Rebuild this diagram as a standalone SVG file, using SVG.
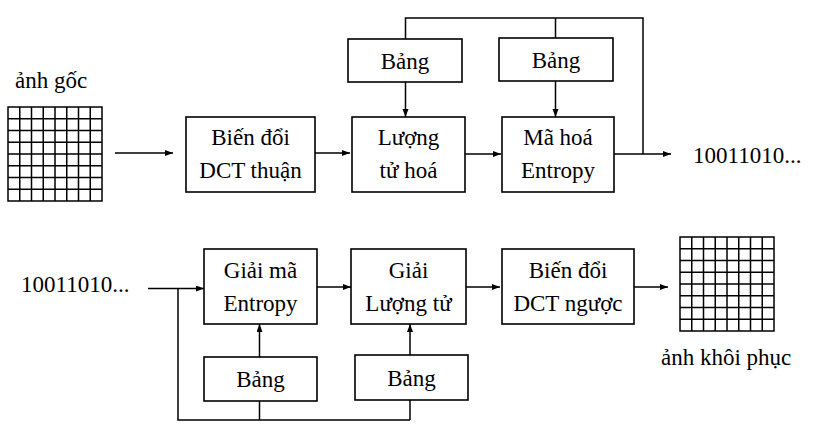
<svg xmlns="http://www.w3.org/2000/svg" width="816" height="441" viewBox="0 0 816 441" font-family="Liberation Serif, DejaVu Serif, serif">
<defs>
<style>
.box{fill:#fff;stroke:#000;stroke-width:1.6}
.ln{fill:none;stroke:#000;stroke-width:1.5}
.ar{marker-end:url(#ah)}
.t{font-size:23px;fill:#000;text-anchor:middle}
.ts{font-size:23px;fill:#000}
.grid{fill:#fff;stroke:#000;stroke-width:1.5}
</style>
<marker id="ah" markerUnits="userSpaceOnUse" markerWidth="9" markerHeight="7" refX="8" refY="3" orient="auto">
<path d="M0,0 L8,3 L0,6 z" fill="#000"/>
</marker>
</defs>
<rect width="816" height="441" fill="#fff"/>

<g id="connectors">
<line class="ln ar" x1="115" y1="153" x2="173" y2="153"/>
<line class="ln ar" x1="315" y1="153" x2="350" y2="153"/>
<line class="ln ar" x1="465" y1="154" x2="501" y2="154"/>
<line class="ln ar" x1="614" y1="154" x2="671" y2="154"/>
<line class="ln ar" x1="405.5" y1="82" x2="405.5" y2="117"/>
<line class="ln ar" x1="555.5" y1="81" x2="555.5" y2="117"/>
<polyline class="ln" points="405.5,39 405.5,18 643,18 643,154"/>
<line class="ln" x1="555.5" y1="38" x2="555.5" y2="18"/>

<line class="ln ar" x1="148" y1="288.5" x2="204" y2="288.5"/>
<line class="ln ar" x1="317" y1="287" x2="351" y2="287"/>
<line class="ln ar" x1="466" y1="287" x2="500" y2="287"/>
<line class="ln ar" x1="634" y1="287" x2="668" y2="287"/>
<polyline class="ln" points="178,288.5 178,420 410,420"/>
<line class="ln ar" x1="259.5" y1="357" x2="259.5" y2="324"/>
<line class="ln" x1="259.5" y1="401" x2="259.5" y2="420"/>
<line class="ln ar" x1="410" y1="355" x2="410" y2="324"/>
<line class="ln" x1="410" y1="400" x2="410" y2="420"/>
</g>

<g id="grid-in">
<path class="grid" d="M8,107 H102 V201 H8 Z M19.75,107 V201 M31.5,107 V201 M43.25,107 V201 M55,107 V201 M66.75,107 V201 M78.5,107 V201 M90.25,107 V201 M8,118.75 H102 M8,130.5 H102 M8,142.25 H102 M8,154 H102 M8,165.75 H102 M8,177.5 H102 M8,189.25 H102"/>
<text class="ts" x="15" y="88">ảnh gốc</text>
</g>

<g id="dct">
<rect class="box" x="186" y="117" width="129" height="75"/>
<text class="t" x="250.5" y="145">Biến đổi</text>
<text class="t" x="250.5" y="178">DCT thuận</text>
</g>
<g id="luongtu">
<rect class="box" x="352" y="117" width="113" height="75"/>
<text class="t" x="408.5" y="145">Lượng</text>
<text class="t" x="408.5" y="178">tử hoá</text>
</g>
<g id="bang1">
<rect class="box" x="348" y="39" width="114" height="43"/>
<text class="t" x="405" y="69">Bảng</text>
</g>
<g id="bang2">
<rect class="box" x="499" y="38" width="114" height="43"/>
<text class="t" x="556" y="68">Bảng</text>
</g>
<g id="mahoa">
<rect class="box" x="502" y="117" width="112" height="75"/>
<text class="t" x="558" y="145">Mã hoá</text>
<text class="t" x="558" y="178">Entropy</text>
</g>
<g id="out-bits">
<text class="ts" x="693" y="163">10011010...</text>
</g>

<g id="in-bits">
<text class="ts" x="21" y="292">10011010...</text>
</g>
<g id="giaima">
<rect class="box" x="204" y="249" width="113" height="75"/>
<text class="t" x="260.5" y="277.5">Giải mã</text>
<text class="t" x="260.5" y="310.5">Entropy</text>
</g>
<g id="giailuongtu">
<rect class="box" x="351" y="249" width="115" height="75"/>
<text class="t" x="408.5" y="277.5">Giải</text>
<text class="t" x="408.5" y="310.5">Lượng tử</text>
</g>
<g id="dctnguoc">
<rect class="box" x="502" y="249" width="132" height="75"/>
<text class="t" x="568" y="277.5">Biến đổi</text>
<text class="t" x="568" y="310.5">DCT ngược</text>
</g>
<g id="bang3">
<rect class="box" x="204" y="357" width="113" height="44"/>
<text class="t" x="260.5" y="387">Bảng</text>
</g>
<g id="bang4">
<rect class="box" x="355" y="355" width="113" height="45"/>
<text class="t" x="411.5" y="385.5">Bảng</text>
</g>
<g id="grid-out">
<path class="grid" d="M680,237 H774 V331 H680 Z M691.75,237 V331 M703.5,237 V331 M715.25,237 V331 M727,237 V331 M738.75,237 V331 M750.5,237 V331 M762.25,237 V331 M680,248.75 H774 M680,260.5 H774 M680,272.25 H774 M680,284 H774 M680,295.75 H774 M680,307.5 H774 M680,319.25 H774"/>
<text class="ts" x="661" y="365">ảnh khôi phục</text>
</g>
</svg>
